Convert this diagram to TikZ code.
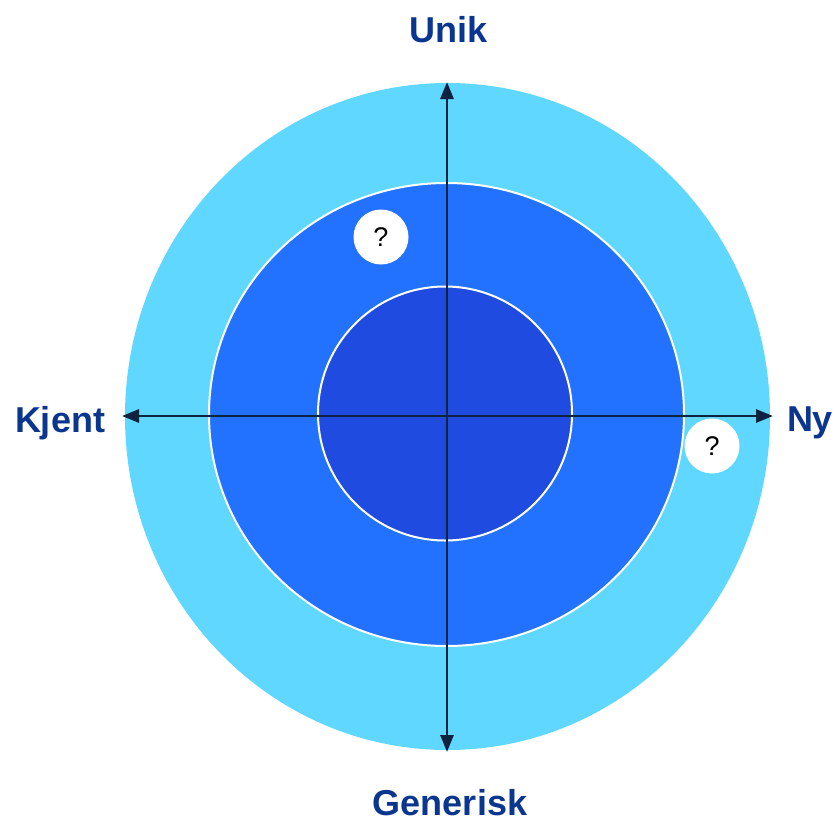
\documentclass[tikz,border=0pt]{standalone}
\usepackage{fontspec}
\setmainfont{Liberation Sans}
\usetikzlibrary{arrows.meta}
\definecolor{outerc}{HTML}{60D7FE}
\definecolor{midc}{HTML}{2272FF}
\definecolor{innerc}{HTML}{1F4BE0}
\definecolor{axisc}{HTML}{0D2340}
\definecolor{labelc}{HTML}{0A3690}
\tikzset{
  axislabel/.style={text=labelc, font=\fontsize{36}{40}\selectfont\bfseries, inner sep=0pt},
  qmark/.style={circle, fill=white, minimum size=55pt, inner sep=0pt, font=\fontsize{27}{30}\selectfont},
  axisline/.style={draw=axisc, line width=2.8pt, {Triangle[length=17pt,width=13pt]}-{Triangle[length=17pt,width=13pt]}},
}
\begin{document}
\begin{tikzpicture}[x=1pt,y=-1pt]
\useasboundingbox (0,0) rectangle (835,822);
% rings
\fill[outerc] (447.5,416.5) ellipse [x radius=322.5, y radius=333.5];
\filldraw[fill=midc, draw=white, line width=2pt] (446.5,414.5) ellipse [x radius=237.5, y radius=231.5];
\filldraw[fill=innerc, draw=white, line width=2pt] (445,413.5) circle [radius=127];
% axes
\coordinate (top) at (447,82);
\coordinate (bottom) at (447,752);
\coordinate (left) at (122,416);
\coordinate (right) at (773,416);
\draw[axisline] (bottom) -- (top);
\draw[axisline] (left) -- (right);
% labels
\node[axislabel] (unik) at (449,30) {Unik};
\node[axislabel] (generisk) at (450,803) {Generisk};
\node[axislabel] (kjent) at (60,423) {Kjent};
\node[axislabel] (ny) at (810,423) {Ny};
% question circles
\node[qmark] (q1) at (381,237) {?};
\node[qmark] (q2) at (712,446) {?};
\end{tikzpicture}
\end{document}
